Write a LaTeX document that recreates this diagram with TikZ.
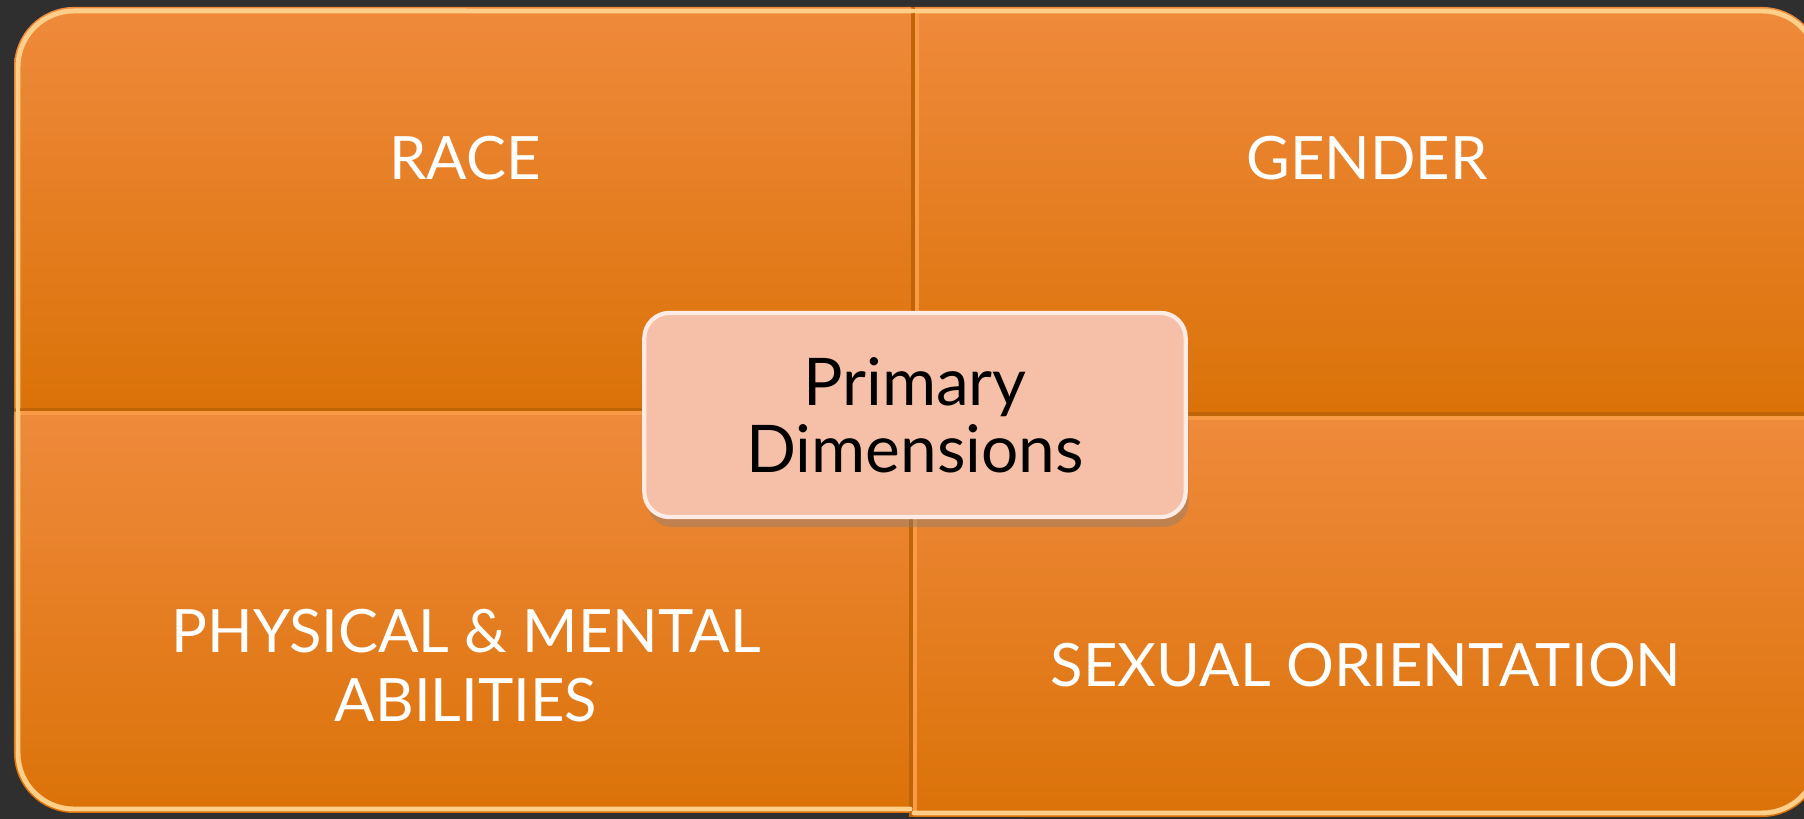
\documentclass[tikz,border=0pt]{standalone}
\usepackage{fontspec}
\setmainfont{Lato}
\usetikzlibrary{shadows}

\definecolor{backdrop}{HTML}{2F2F2F}
\definecolor{tiletop}{HTML}{EF8A3C}
\definecolor{tilebottom}{HTML}{DB7208}
\definecolor{tileedge}{HTML}{C06408}
\definecolor{tileshine}{HTML}{F99A45}
\definecolor{tilerim}{HTML}{FFCF8A}
\definecolor{corefill}{HTML}{F5BFA8}

\begin{document}
\begin{tikzpicture}[
        x=0.01cm, y=0.01cm,
        tile/.style={top color=tiletop, bottom color=tilebottom},
        divider/.style={draw=tileedge, line width=1.3pt},
        shine/.style={draw=tileshine, line width=1pt},
        rim/.style={draw=tilerim, line width=1.4pt, line cap=round},
        dimtext/.style={text=white, align=center, font=\fontsize{17}{19.6}\selectfont},
        core/.style={rectangle, rounded corners=2.5mm, fill=corefill, draw=white!70!corefill,
            line width=1.2pt, minimum width=5.41cm, minimum height=2.04cm, align=center,
            font=\fontsize{18.7}{19}\selectfont,
            drop shadow={shadow xshift=0.3mm, shadow yshift=-1mm, opacity=0.4}}
    ]
        % Backdrop
        \fill[backdrop] (0,0) rectangle (1804,819);
        \useasboundingbox (0,0) rectangle (1804,819);

        % Quadrant tiles, only the outer corner rounded
        \path[tile] (912,411) -- (14,411) -- (14,752) arc (180:90:6mm) -- (912,812) -- cycle;
        \path[tile] (914,407) -- (914,812) -- (1762,812) arc (90:0:6mm) -- (1822,407) -- cycle;
        \path[tile] (14,407) -- (912,407) -- (912,6) -- (74,6) arc (270:180:6mm) -- cycle;
        \path[tile] (912,403) -- (1822,403) -- (1822,62) arc (0:-90:6mm) -- (912,2) -- cycle;

        % Dividers between the tiles
        \draw[divider] (913,405) -- (913,812);
        \draw[shine] (917,405) -- (917,810);
        \draw[divider] (911,2) -- (911,409);
        \draw[shine] (915,4) -- (915,403);
        \draw[divider] (14,409) -- (911,409);
        \draw[shine] (16,406) -- (909,406);
        \draw[divider] (915,405) -- (1804,405);
        \draw[shine] (915,401) -- (1804,401);

        % Light rims on the outer edges
        \draw[rim] (18,411) -- (18,752) arc (180:90:5.6mm) -- (912,808);
        \draw[rim] (916,808) -- (1762,808) arc (90:0:5.6mm);
        \draw[rim] (18,407) -- (18,66) arc (180:270:5.6mm) -- (910,10);
        \draw[rim] (914,6) -- (1762,6) arc (270:360:5.6mm);

        % Labels
        \node[dimtext] (race) at (465,661) {RACE};
        \node[dimtext] (gender) at (1367,661) {GENDER};
        \node[dimtext] (abilities) at (466,153) {PHYSICAL \& MENTAL\\ABILITIES};
        \node[dimtext] (orientation) at (1366,154) {SEXUAL ORIENTATION};

        % Centre box
        \node[core] (primary) at (915,404) {Primary\\Dimensions};

    \end{tikzpicture}
\end{document}
